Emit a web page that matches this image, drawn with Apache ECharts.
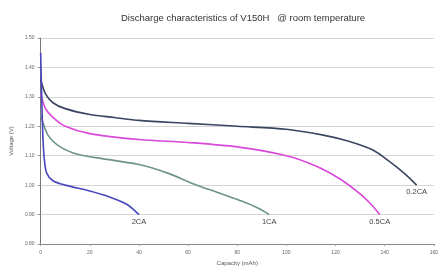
<!DOCTYPE html>
<html>
<head>
<meta charset="utf-8">
<script src="https://cdn.jsdelivr.net/npm/echarts@6/dist/echarts.min.js"></script>
<style>
  html, body { margin: 0; padding: 0; background: #fff; }
  #chart { width: 441px; height: 271px; }
</style>
</head>
<body>
<div id="chart"></div>
<script>
// discharge curves: [capacity mAh, voltage V]
const seriesNames = ['0.2CA', '0.5CA', '1CA', '2CA']
const curve02 = [[0, 1.36], [2, 1.31], [5, 1.28], [10, 1.26], [20, 1.24], [30, 1.23], [40, 1.22], [60, 1.21], [80, 1.20], [100, 1.19], [115, 1.17], [125, 1.15], [135, 1.12], [142, 1.08], [148, 1.04], [153, 1.0]]
const curve05 = [[0, 1.31], [2, 1.26], [5, 1.23], [10, 1.20], [20, 1.175], [40, 1.155], [60, 1.145], [80, 1.13], [100, 1.10], [112, 1.065], [122, 1.02], [130, 0.97], [135, 0.93], [138, 0.9]]
const curve1 = [[0, 1.24], [3, 1.17], [8, 1.13], [15, 1.105], [25, 1.09], [40, 1.07], [52, 1.04], [62, 1.005], [72, 0.975], [82, 0.945], [89, 0.92], [93, 0.9]]
const curve2 = [[0, 1.45], [0.3, 1.35], [0.6, 1.25], [1, 1.15], [1.6, 1.08], [2.5, 1.04], [5, 1.015], [10, 1.0], [20, 0.98], [28, 0.96], [35, 0.935], [40, 0.9]]
const curves = [curve02, curve05, curve1, curve2]
const colors = ['#3a4560', '#da48da', '#6e948e', '#4646bf']

const chart = echarts.init(document.getElementById('chart'))

const series = curves.map(function(data, i) {
  const last = data[data.length - 1]
  return {
    name: seriesNames[i],
    type: 'line',
    data: data,
    smooth: 0.3,
    showSymbol: false,
    lineStyle: { color: colors[i], width: 1.6 },
    markPoint: {
      symbol: 'circle',
      symbolSize: 0,
      data: [{ coord: last, value: seriesNames[i] }],
      label: {
        show: true,
        position: 'bottom',
        distance: 3,
        formatter: seriesNames[i],
        color: '#444',
        fontSize: 7.5,
        fontFamily: 'Arial'
      }
    }
  }
})

chart.setOption({
  animation: false,
  title: {
    text: 'Discharge characteristics of V150H   @ room temperature',
    left: 116,
    top: 8,
    textStyle: { fontSize: 9.5, fontWeight: 'normal', color: '#333', fontFamily: 'Arial' }
  },
  grid: { left: 39, right: 1, top: 38, bottom: 25 },
  xAxis: {
    type: 'value',
    min: 0,
    max: 160,
    interval: 20,
    name: 'Capacity (mAh)',
    nameLocation: 'middle',
    nameGap: 16,
    nameTextStyle: { fontSize: 6, color: '#555' },
    axisLine: { lineStyle: { color: '#888' } },
    axisTick: { show: true, length: 2, lineStyle: { color: '#999' } },
    axisLabel: { fontSize: 5, color: '#666', margin: 6 },
    splitLine: { show: false }
  },
  yAxis: {
    type: 'value',
    min: 0.8,
    max: 1.5,
    interval: 0.1,
    name: 'Voltage (V)',
    nameLocation: 'middle',
    nameGap: 24,
    nameTextStyle: { fontSize: 6, color: '#555' },
    axisLine: { show: true, lineStyle: { color: '#777' } },
    axisTick: { show: true, length: 3, lineStyle: { color: '#999' } },
    axisLabel: {
      fontSize: 5,
      color: '#666',
      margin: 6,
      formatter: function(v) { return v.toFixed(2) }
    },
    splitLine: { lineStyle: { color: '#d4d4d4', width: 1 } }
  },
  series: series
})
</script>
</body>
</html>
